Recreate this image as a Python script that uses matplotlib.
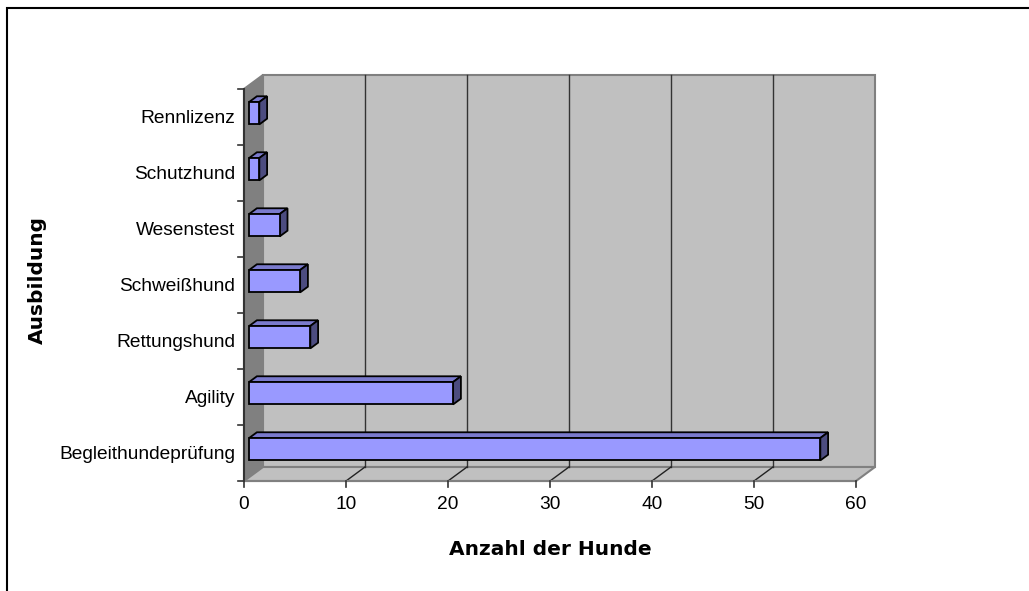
import matplotlib
matplotlib.use("Agg")
import matplotlib.pyplot as plt
from matplotlib.patches import Polygon, Rectangle

categories = ["Begleithundeprüfung", "Agility", "Rettungshund", "Schweißhund",
              "Wesenstest", "Schutzhund", "Rennlizenz"]
counts = [56, 20, 6, 5, 3, 1, 1]
x_ticks = [0, 10, 20, 30, 40, 50, 60]

# depth of the 3d box in data units (x: value units, y: category units)
DX, DY = 1.86, 0.25
F0, F1 = 0.27, 0.68      # front / back depth of the bars
BAR_H = 0.4
XMAX = x_ticks[-1]
NCAT = len(categories)

front = "#9999FF"
top = "#7A7ACC"
side = "#4C4C80"
wall = "#C0C0C0"
dark_wall = "#808080"


def p(v, y, f):
    return (v + f * DX, y + f * DY)


fig = plt.figure(figsize=(10.29, 5.91), dpi=100)
ax = fig.add_axes([0, 0, 1, 1])
ax.set_xlim(-244 / 10.2, (1029 - 244) / 10.2)
ax.set_ylim((481 - 591) / 56, 481 / 56)
ax.axis("off")

# walls
ax.add_patch(Polygon([p(0, 0, 1), p(XMAX, 0, 1), p(XMAX, NCAT, 1), p(0, NCAT, 1)],
                     closed=True, facecolor=wall, edgecolor=dark_wall, lw=1.5, zorder=1))
ax.add_patch(Polygon([p(0, 0, 0), p(0, 0, 1), p(0, NCAT, 1), p(0, NCAT, 0)],
                     closed=True, facecolor=dark_wall, edgecolor=dark_wall, lw=1.5, zorder=1))
ax.add_patch(Polygon([p(0, 0, 0), p(XMAX, 0, 0), p(XMAX, 0, 1), p(0, 0, 1)],
                     closed=True, facecolor=wall, edgecolor=dark_wall, lw=1.5, zorder=1))

# grid on back wall and floor
for v in x_ticks[1:-1]:
    ax.plot(*zip(p(v, 0, 1), p(v, NCAT, 1)), color="#333333", lw=1, zorder=2)
    ax.plot(*zip(p(v, 0, 0), p(v, 0, 1)), color="#222222", lw=1, zorder=2)

# axes lines and ticks
ax.plot([0, 0], [0, NCAT], color="#333333", lw=1.5, zorder=3)
ax.plot([0, XMAX], [0, 0], color=dark_wall, lw=1.5, zorder=3)
for v in x_ticks:
    ax.plot([v, v], [0, -0.11], color="#333333", lw=1.2, zorder=3)
    ax.text(v, -0.42, str(v), ha="center", va="center", fontsize=13.8,
            family="Liberation Sans")
for c in range(NCAT + 1):
    ax.plot([0, -0.6], [c, c], color="#333333", lw=1.2, zorder=3)

# bars
for i, (name, val) in enumerate(zip(categories, counts)):
    yb = i + 0.5 - BAR_H / 2
    yt = i + 0.5 + BAR_H / 2
    ax.add_patch(Polygon([p(0, yt, F0), p(val, yt, F0), p(val, yt, F1), p(0, yt, F1)],
                         closed=True, facecolor=top, edgecolor="black", lw=1.3, zorder=4))
    ax.add_patch(Polygon([p(val, yb, F0), p(val, yt, F0), p(val, yt, F1), p(val, yb, F1)],
                         closed=True, facecolor=side, edgecolor="black", lw=1.3, zorder=4))
    ax.add_patch(Polygon([p(0, yb, F0), p(val, yb, F0), p(val, yt, F0), p(0, yt, F0)],
                         closed=True, facecolor=front, edgecolor="black", lw=1.3, zorder=5))
    ax.text(-0.85, i + 0.48, name, ha="right", va="center", fontsize=13.8,
            family="Liberation Sans")

ax.text(30.0, -1.23, "Anzahl der Hunde", ha="center", va="center", fontsize=14.5,
        fontweight="bold", family="DejaVu Sans")
ax.text(-20.3, 3.59, "Ausbildung", ha="center", va="center", fontsize=14.5,
        fontweight="bold", family="DejaVu Sans", rotation=90)

# outer chart border
fig.patches.append(Rectangle((7 / 1029, -0.1), 1.2, 1 - 8 / 591 + 0.1,
                             transform=fig.transFigure, fill=False,
                             edgecolor="black", lw=1.5))

fig.savefig("out.png", dpi=100)
